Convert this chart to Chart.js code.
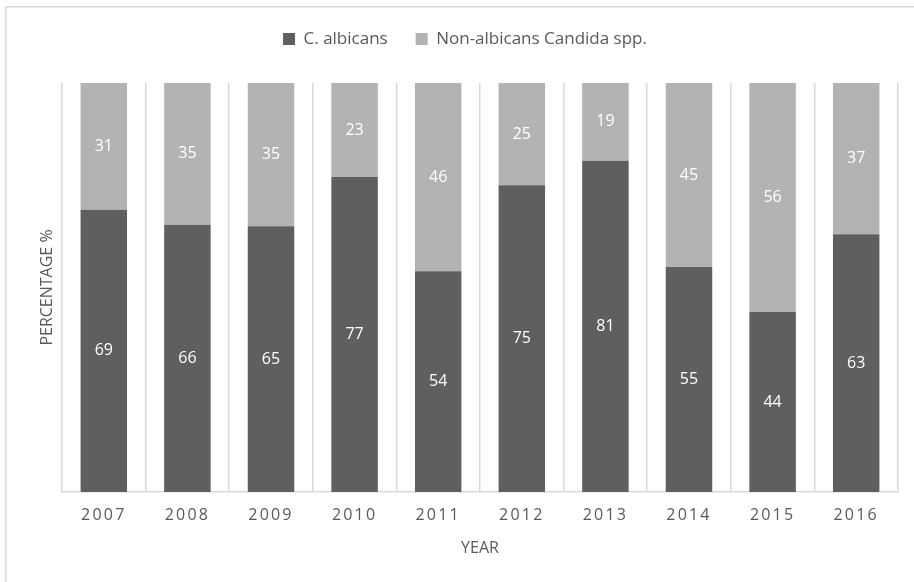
<!DOCTYPE html>
<html><head><meta charset="utf-8">
<script src="https://cdn.jsdelivr.net/npm/chart.js@4.4.1/dist/chart.umd.min.js"></script>
<style>html,body{margin:0;padding:0;background:#fff}#wrap{width:914px;height:582px}</style>
</head><body><div id="wrap"><canvas id="c" width="914" height="582"></canvas></div>
<script>
const years = ['2007','2008','2009','2010','2011','2012','2013','2014','2015','2016'];
const albicans = [69, 66, 65, 77, 54, 75, 81, 55, 44, 63];
const nonAlbicans = [31, 35, 35, 23, 46, 25, 19, 45, 56, 37];
const seriesNames = ['C. albicans', 'Non-albicans Candida spp.'];
const axisTitles = { x: 'YEAR', y: 'PERCENTAGE %' };

// 100% stacked: each bar share of its year's total
const share = (a, b) => a.map((v, i) => v / (v + b[i]) * 100);

const FONT = "'Open Sans', 'Liberation Sans', sans-serif";
const TXT = '#595959';
const GRID = '#d9d9d9';

const framePlugin = {
  id: 'frame',
  afterLayout(chart) {
    // nudge the legend row to sit where the original one does
    if (chart.legend) { chart.legend.left += 16; chart.legend.right += 16; }
  },
  beforeDraw(chart) {
    const ctx = chart.ctx;
    ctx.save();
    ctx.strokeStyle = GRID;
    ctx.lineWidth = 1.5;
    ctx.strokeRect(5.75, 6.75, 2000, 2000);
    ctx.restore();
    const xs = chart.scales.x;
    if (xs && !xs._spaced) {
      const orig = xs.drawLabels.bind(xs);
      xs.drawLabels = function (area) {
        const c = this.ctx;
        c.save();
        c.letterSpacing = '2.2px';
        orig(area);
        c.restore();
      };
      xs._spaced = true;
    }
  }
};

const labelPlugin = {
  id: 'valueLabels',
  afterDatasetsDraw(chart) {
    const ctx = chart.ctx;
    ctx.save();
    ctx.font = '16px ' + FONT;
    ctx.fillStyle = '#ffffff';
    ctx.textAlign = 'center';
    ctx.textBaseline = 'middle';
    chart.data.datasets.forEach((ds, di) => {
      const meta = chart.getDatasetMeta(di);
      meta.data.forEach((el, i) => {
        const p = el.getProps(['x', 'y', 'base'], true);
        ctx.fillText(String(ds.rawValues[i]), p.x, (p.y + p.base) / 2);
      });
    });
    ctx.restore();
  }
};

new Chart(document.getElementById('c'), {
  type: 'bar',
  data: {
    labels: years,
    datasets: [
      { label: seriesNames[0], data: share(albicans, nonAlbicans), rawValues: albicans,
        backgroundColor: '#5f5f5f', borderWidth: 0 },
      { label: seriesNames[1], data: share(nonAlbicans, albicans), rawValues: nonAlbicans,
        backgroundColor: '#b3b3b3', borderWidth: 0 }
    ]
  },
  options: {
    responsive: false,
    animation: false,
    devicePixelRatio: 1,
    layout: { padding: { top: 2.5, right: 16, bottom: 0, left: 0 } },
    datasets: { bar: { categoryPercentage: 1, barPercentage: 0.556 } },
    plugins: {
      legend: {
        position: 'top',
        labels: {
          font: { family: FONT, size: 17 },
          color: TXT,
          boxWidth: 12,
          boxHeight: 12,
          padding: 28
        }
      },
      tooltip: { enabled: false }
    },
    scales: {
      x: {
        stacked: true,
        offset: true,
        grid: { display: true, offset: true, color: GRID, lineWidth: 1.5, drawTicks: false },
        border: { display: true, color: GRID, width: 1.5 },
        ticks: { color: TXT, font: { family: FONT, size: 16 }, padding: 14, maxRotation: 0 },
        title: { display: true, text: axisTitles.x, color: TXT, font: { family: FONT, size: 16 },
                 padding: { top: 0, bottom: 24 } },
        afterFit(s) { s.height = 90; }
      },
      spacer: {
        type: 'category',
        position: 'top',
        display: true,
        grid: { display: false },
        border: { display: false },
        ticks: { display: false },
        afterFit(s) { s.height = 25.5; }
      },
      y: {
        stacked: true,
        min: 0,
        max: 100,
        grid: { display: false },
        border: { display: false },
        ticks: { display: false },
        title: { display: true, text: axisTitles.y, color: TXT, font: { family: FONT, size: 16 },
                 padding: { top: 38, bottom: 0 } },
        afterFit(s) { s.width = 62; }
      }
    }
  },
  plugins: [framePlugin, labelPlugin]
});
</script>
</body></html>
